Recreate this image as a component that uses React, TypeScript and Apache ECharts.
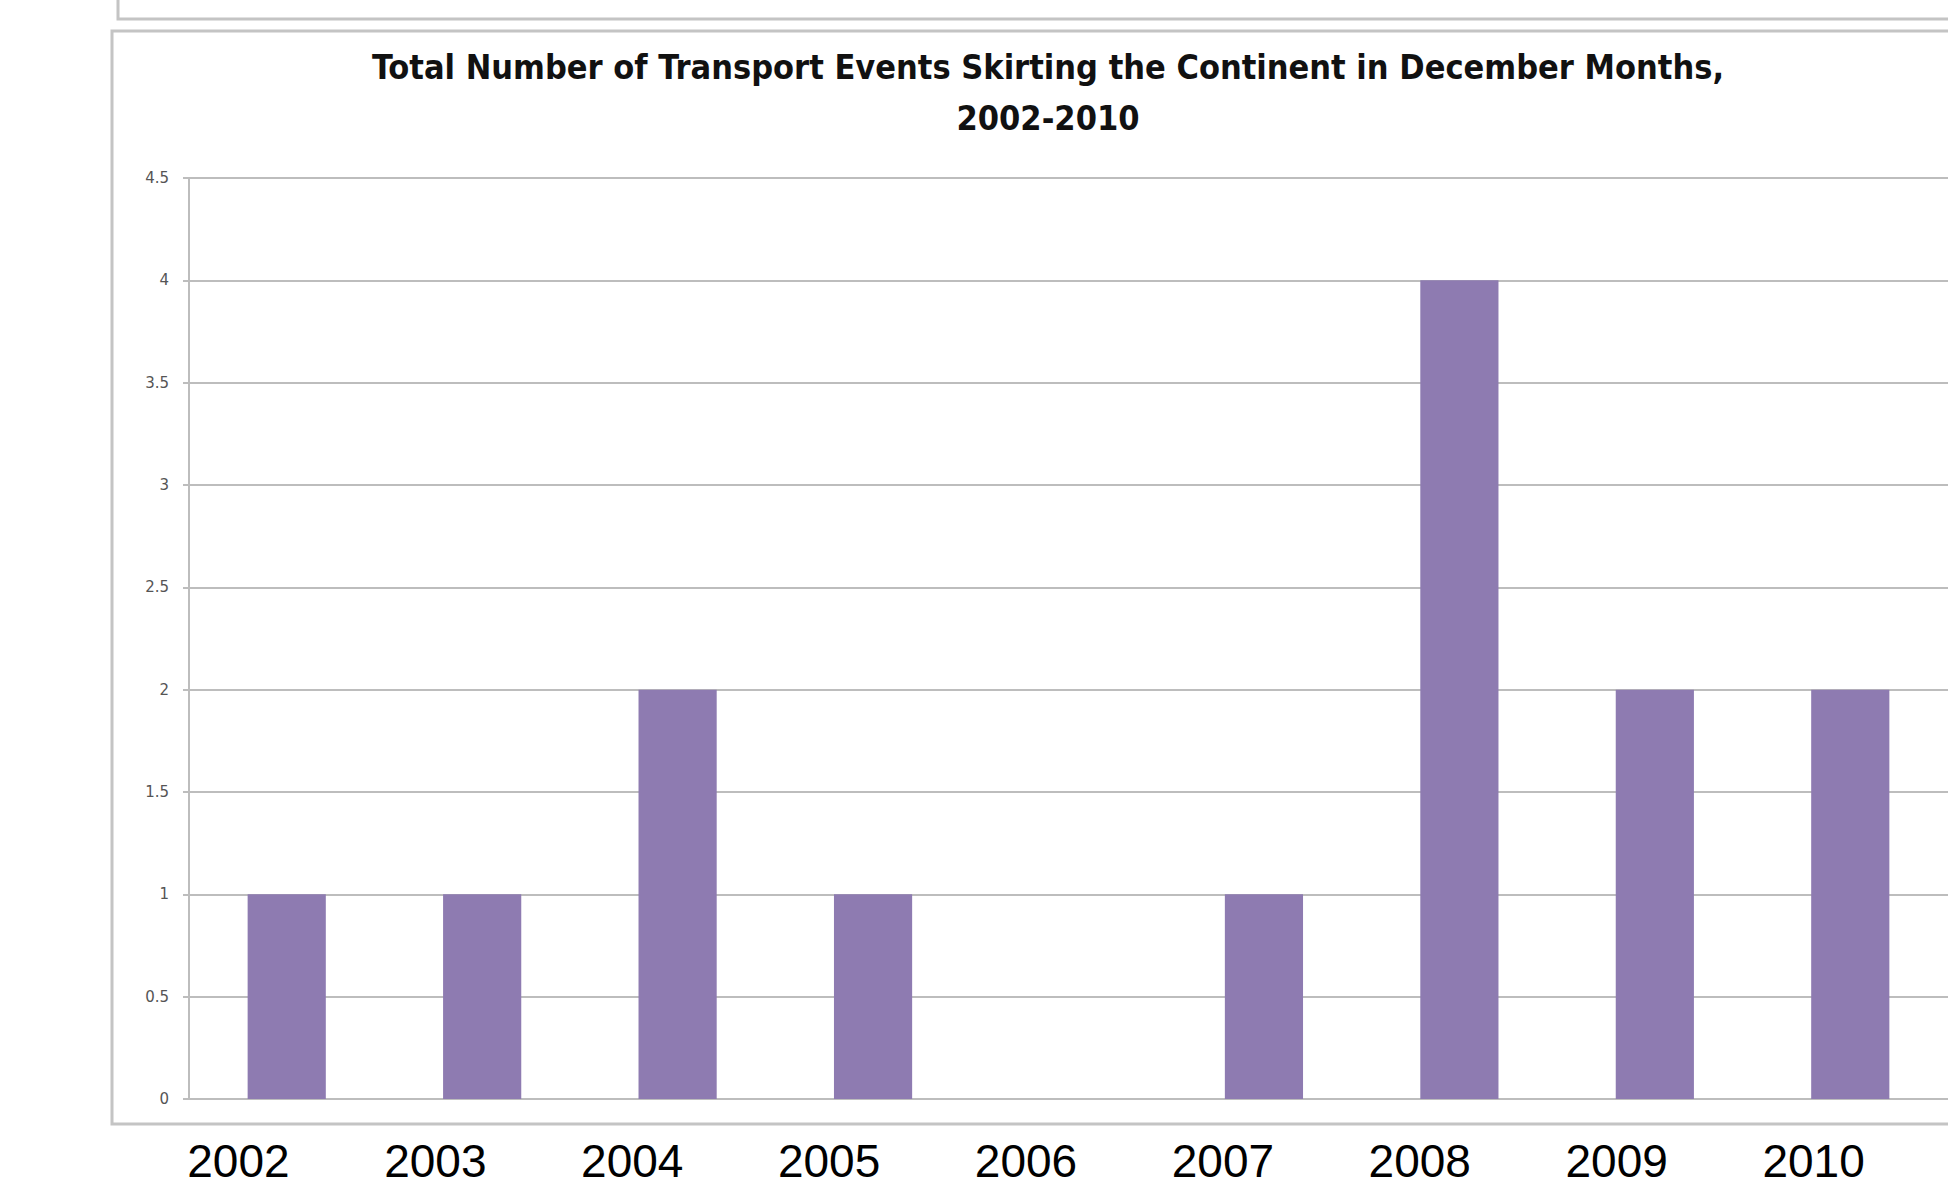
import React, { useEffect, useRef } from "react";
import * as echarts from "echarts";

const years = ["2002", "2003", "2004", "2005", "2006", "2007", "2008", "2009", "2010"];
const events = [1, 1, 2, 1, 0, 1, 4, 2, 2];
const titleText = "Total Number of Transport Events Skirting the Continent in December Months,\n2002-2010";
const yMin = 0;
const yMax = 4.5;
const yStep = 0.5;

export default function App() {
  const ref = useRef<HTMLDivElement>(null);
  useEffect(() => {
    if (!ref.current) return;
    const chart = echarts.init(ref.current, undefined, { renderer: "svg" });
    chart.setOption({
      animation: false,
      backgroundColor: "#ffffff",
      title: {
        text: titleText,
        left: 1043,
        top: 36,
        textAlign: "center",
        textStyle: {
          fontFamily: "'Liberation Sans Narrow', 'DejaVu Sans Condensed', 'Open Sans', sans-serif",
          fontWeight: "bold",
          fontSize: 34,
          lineHeight: 51,
          color: "#111",
        },
      },
      graphic: [
        {
          type: "rect",
          silent: true,
          z: -10,
          shape: { x: 118, y: -20, width: 1900, height: 39 },
          style: { fill: "none", stroke: "#c4c4c4", lineWidth: 3 },
        },
        {
          type: "rect",
          silent: true,
          z: -10,
          shape: { x: 112, y: 31, width: 1900, height: 1093 },
          style: { fill: "none", stroke: "#c4c4c4", lineWidth: 3 },
        },
      ],
      grid: [
        { left: 189, top: 178, bottom: 91, right: -2 },
        { left: 140, right: 36, top: 1100, height: 30 },
      ],
      xAxis: [
        {
          type: "category",
          gridIndex: 0,
          data: years,
          axisLine: { show: true, lineStyle: { color: "#bdbdbd", width: 2 } },
          axisTick: { show: false },
          axisLabel: { show: false },
        },
        {
          type: "category",
          gridIndex: 1,
          data: years,
          axisLine: { show: false },
          axisTick: { show: false },
          splitLine: { show: false },
          axisLabel: {
            show: true,
            margin: 11,
            fontSize: 46,
            lineHeight: 40,
            fontFamily: "'Liberation Sans', Arial, sans-serif",
            color: "#000",
          },
        },
      ],
      yAxis: [
        {
          type: "value",
          gridIndex: 0,
          min: yMin,
          max: yMax,
          interval: yStep,
          axisLine: { show: true, lineStyle: { color: "#bdbdbd", width: 2 } },
          axisTick: { show: true, length: 6, lineStyle: { color: "#bdbdbd", width: 2 } },
          splitLine: { show: true, lineStyle: { color: "#bdbdbd", width: 2 } },
          axisLabel: {
            margin: 20,
            fontSize: 15,
            fontFamily: "'DejaVu Sans', Verdana, sans-serif",
            color: "#555",
          },
        },
        {
          type: "value",
          gridIndex: 1,
          show: false,
        },
      ],
      series: [
        {
          type: "bar",
          xAxisIndex: 0,
          yAxisIndex: 0,
          data: events,
          barWidth: "40%",
          itemStyle: { color: "#8e7bb1" },
        },
      ],
    });
    return () => chart.dispose();
  }, []);
  return (
    <div
      ref={ref}
      style={{ position: "absolute", left: 0, top: 0, width: 1948, height: 1190 }}
    />
  );
}
